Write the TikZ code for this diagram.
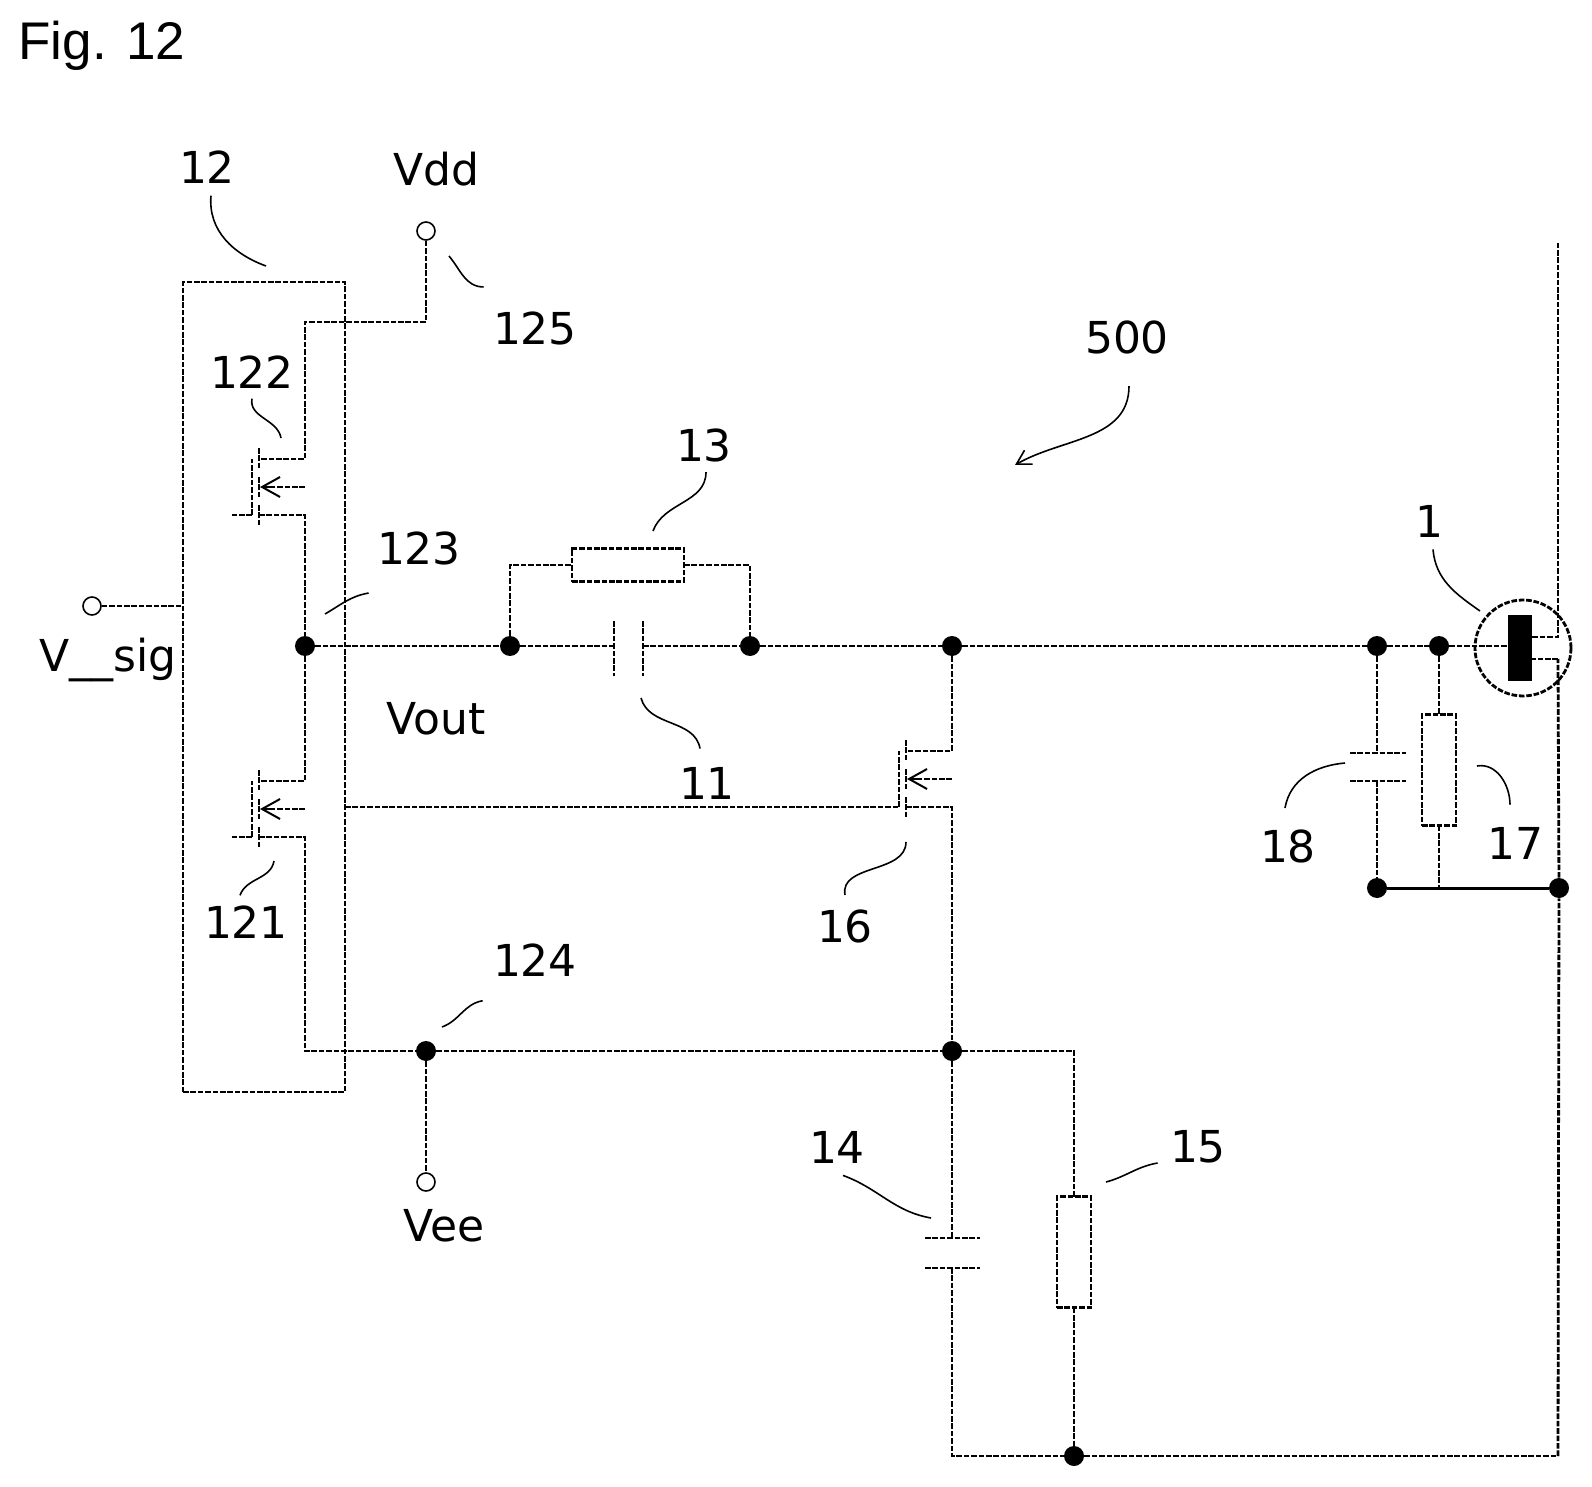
\documentclass[tikz,border=0pt]{standalone}
\usepackage{fontspec}
\setmainfont{DejaVu Sans}
\newfontfamily\figfont{Liberation Sans}
\usetikzlibrary{arrows.meta}

\tikzset{
  wire/.style={line width=1.4pt, dash pattern=on 2.8pt off 0.9pt},
  leader/.style={line width=0.8pt},
  junction/.style={circle, fill=black, inner sep=0pt, minimum size=10pt},
  terminal/.style={circle, draw, line width=0.8pt, fill=white, inner sep=0pt, minimum size=9pt},
  resbox/.style={draw, wire, inner sep=0pt, outer sep=0pt},
  lbl/.style={font=\fontsize{22}{22}\selectfont, inner sep=2pt}
}

\begin{document}
\begin{tikzpicture}[x=0.5pt, y=-0.5pt]
\useasboundingbox (0,0) rectangle (1592,1487);

\node[font=\figfont\fontsize{26.5}{26.5}\selectfont, inner sep=0pt] (figlabel) at (102,46) {Fig. 12};

% block 12
\node[resbox, minimum width=81pt, minimum height=405pt] (block) at (264,687) {};

% terminals
\node[terminal] (vdd) at (426,231) {};
\node[terminal] (vee) at (426,1182) {};
\node[terminal] (vsig) at (92,606) {};

% junctions
\node[junction] (out) at (305,646) {};
\node[junction] (j13a) at (510,646) {};
\node[junction] (j13b) at (750,646) {};
\node[junction] (j16) at (952,646) {};
\node[junction] (j18) at (1377,646) {};
\node[junction] (j17) at (1439,646) {};
\node[junction] (j124) at (426,1051) {};
\node[junction] (jlow) at (952,1051) {};
\node[junction] (j18b) at (1377,888) {};
\node[junction] (jrail) at (1559,888) {};
\node[junction] (jbot) at (1074,1456) {};

% resistors
\node[resbox, minimum width=56pt, minimum height=16.5pt] (r13) at (628,565) {};
\node[resbox, minimum width=17pt, minimum height=55.5pt] (r15) at (1074,1252) {};
\node[resbox, minimum width=17pt, minimum height=55.5pt] (r17) at (1439,770) {};

% capacitors
\coordinate (c11a) at (614,646);
\coordinate (c11b) at (643,646);
\coordinate (c14a) at (952,1238);
\coordinate (c14b) at (952,1268);
\coordinate (c18a) at (1377,753);
\coordinate (c18b) at (1377,781);
\draw[wire] (c11a) ++(0,-25) -- ++(0,55);
\draw[wire] (c11b) ++(0,-25) -- ++(0,55);
\draw[wire] (c14a) ++(-27,0) -- ++(55,0);
\draw[wire] (c14b) ++(-27,0) -- ++(55,0);
\draw[wire] (c18a) ++(-27,0) -- ++(56,0);
\draw[wire] (c18b) ++(-27,0) -- ++(56,0);

% transistors
\foreach \nm/\tx/\ty in {q122/259/487, q121/259/809, q16/906/779} {
  \coordinate (\nm d) at (\tx,\ty-28);
  \coordinate (\nm s) at (\tx,\ty+28);
  \coordinate (\nm g) at (\tx-7,\ty+28);
  \draw[wire] (\tx,\ty-39) -- (\tx,\ty-18);
  \draw[wire] (\tx,\ty-10) -- (\tx,\ty+11);
  \draw[wire] (\tx,\ty+18) -- (\tx,\ty+39);
  \draw[wire] (\nm g) -- (\tx-7,\ty-28);
  \draw[wire] (\tx+46,\ty) -- (\tx+14,\ty);
  \draw[line width=1pt, -{Straight Barb[length=9pt,width=10pt]}] (\tx+14,\ty) -- (\tx+1,\ty);
}

% device 1
\node[circle, draw, wire, inner sep=0pt, minimum size=48pt] (dev) at (1523,648) {};
\node[fill=black, inner sep=0pt, minimum width=12pt, minimum height=33pt] (chip) at (1520,648) {};
\coordinate (railup) at (1558,637);
\coordinate (raildn) at (1558,659);
\coordinate (railtop) at (1558,241);
\coordinate (railbot) at (1558,1456);

% wires
\draw[wire] (vdd) -- (426,322) -- (305,322) -- (305,459) -- (q122d);
\draw[wire] (q122s) -- (305,515) -- (out);
\draw[wire] (out) -- (305,781) -- (q121d);
\draw[wire] (q121s) -- (305,837) -- (305,1051) -- (j124);
\draw[wire] (vsig) -- (block.west |- vsig);
\draw[wire] (q122g) -- ++(-20,0);
\draw[wire] (q121g) -- ++(-20,0);
\draw[wire] (j124) -- (jlow);
\draw[wire] (j124) -- (vee);
\draw[wire] (out) -- (j13a);
\draw[wire] (j13a) -- (c11a);
\draw[wire] (c11b) -- (j13b);
\draw[wire] (j13a) |- (r13.west);
\draw[wire] (r13.east) -| (j13b);
\draw[wire] (j13b) -- (j16);
\draw[wire] (j16) -- (j18);
\draw[wire] (j18) -- (j17);
\draw[wire] (j17) -- (chip.west |- j17);
\draw[wire] (j16) |- (q16d);
\draw[wire] (block.east |- q16g) -- (q16g);
\draw[wire] (q16s) -| (jlow);
\draw[wire] (jlow) -- (c14a);
\draw[wire] (c14b) -- (952,1456) -- (jbot);
\draw[wire] (jlow) -| (r15.north);
\draw[wire] (r15.south) -- (jbot);
\draw[wire] (jbot) -- (railbot);
\draw[wire] (railbot) -- (jrail);
\draw[wire] (jrail) -- (raildn);
\draw[wire] (raildn) -- (chip.east |- raildn);
\draw[wire] (chip.east |- railup) -- (railup) -- (railtop);
\draw[wire] (j18) -- (c18a);
\draw[wire] (c18b) -- (j18b);
\draw[wire] (j17) -- (r17.north);
\draw[wire] (r17.south) -- (1439,888);
\draw[line width=1.5pt] (j18b) -- (jrail);

% labels
\node[lbl] (lab12) at (207,167) {12};
\node[lbl] (labvdd) at (436,169) {Vdd};
\node[lbl] (lab125) at (535,328) {125};
\node[lbl] (lab500) at (1127,337) {500};
\node[lbl] (lab122) at (252,372) {122};
\node[lbl] (lab13) at (704,445) {13};
\node[lbl] (lab123) at (419,548) {123};
\node[lbl] (lab1) at (1429,521) {1};
\node[lbl] (labsig) at (108,660) {V\_\_sig};
\node[lbl] (labout) at (436,719) {Vout};
\node[lbl] (lab11) at (707,783) {11};
\node[lbl] (lab18) at (1288,846) {18};
\node[lbl] (lab17) at (1515,843) {17};
\node[lbl] (lab16) at (845,926) {16};
\node[lbl] (lab121) at (246,922) {121};
\node[lbl] (lab124) at (535,960) {124};
\node[lbl] (lab14) at (837,1147) {14};
\node[lbl] (lab15) at (1198,1147) {15};
\node[lbl] (labvee) at (444,1226) {Vee};

% leaders
\coordinate (l12) at (266,266);
\coordinate (l125) at (449,256);
\coordinate (l122) at (281,438);
\coordinate (l123) at (325,614);
\coordinate (l13) at (653,531);
\coordinate (l1) at (1480,611);
\coordinate (l17) at (1477,766);
\coordinate (l11) at (641,698);
\coordinate (l18) at (1345,763);
\coordinate (l16) at (906,842);
\coordinate (l121) at (274,861);
\coordinate (l124) at (442,1027);
\coordinate (l14) at (931,1218);
\coordinate (l15) at (1106,1182);
\coordinate (l500) at (1015,465);
\draw[leader] (lab12.south) ++(4,8) to[out=-95,in=160] (l12);
\draw[leader] (lab125.north west) ++(-5,-20) to[out=180,in=-50] (l125);
\draw[leader] (lab122.south) ++(0,6) to[out=-100,in=100] (l122);
\draw[leader] (lab123.south west) ++(-4,24) to[out=190,in=30] (l123);
\draw[leader] (lab13.south) ++(2,6) to[out=-90,in=70] (l13);
\draw[leader] (lab1.south) ++(4,8) to[out=-85,in=145] (l1);
\draw[leader] (lab17.north) ++(-5,-18) to[out=90,in=10] (l17);
\draw[leader] (lab11.north) ++(-7,-14) to[out=100,in=-75] (l11);
\draw[leader] (lab18.north) ++(-3,-17) to[out=80,in=185] (l18);
\draw[leader] (lab16.north) ++(0,-10) to[out=100,in=-90] (l16);
\draw[leader] (lab121.north) ++(-6,-6) to[out=70,in=-100] (l121);
\draw[leader] (lab124.south west) ++(-6,20) to[out=190,in=20] (l124);
\draw[leader] (lab14.south) ++(6,8) to[out=-20,in=170] (l14);
\draw[leader] (lab15.west) ++(-8,16) to[out=190,in=15] (l15);
\draw[leader, -{Straight Barb[length=7pt,width=8pt]}] (lab500.south) ++(2,28) to[out=-90,in=30] (l500);
\end{tikzpicture}
\end{document}
